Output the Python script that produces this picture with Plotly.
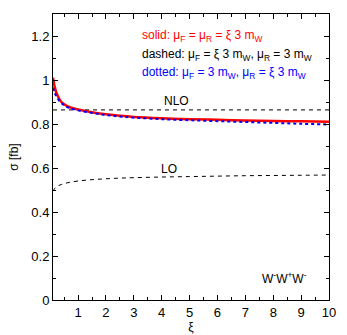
import plotly.graph_objects as go

xi = [0.1, 0.15, 0.2, 0.3, 0.4, 0.5, 0.7, 1.0, 1.5, 2.0, 2.5, 3.0, 4.0, 5.0, 6.0, 7.0, 8.0, 9.0, 10.0]
solid = [1.01, 0.975, 0.95, 0.92, 0.90, 0.89, 0.876, 0.866, 0.853, 0.844, 0.837, 0.832, 0.826, 0.822, 0.819, 0.816, 0.814, 0.812, 0.810]
dotted = [0.965, 0.945, 0.93, 0.91, 0.895, 0.885, 0.872, 0.862, 0.850, 0.841, 0.834, 0.829, 0.822, 0.817, 0.813, 0.809, 0.805, 0.801, 0.798]
nlo_x = [0.1, 10.0]
nlo = [0.864, 0.864]
lo = [0.495, 0.505, 0.512, 0.52, 0.525, 0.529, 0.535, 0.541, 0.547, 0.551, 0.554, 0.556, 0.559, 0.561, 0.563, 0.565, 0.566, 0.567, 0.568]

fig = go.Figure()
fig.add_trace(go.Scatter(x=nlo_x, y=nlo, mode="lines", line=dict(color="black", width=1, dash="4px,4px")))
fig.add_trace(go.Scatter(x=xi, y=lo, mode="lines", line=dict(color="black", width=1, dash="4px,4px"), line_shape="spline"))
fig.add_trace(go.Scatter(x=xi, y=solid, mode="lines", line=dict(color="red", width=2.5), line_shape="spline"))
fig.add_trace(go.Scatter(x=xi, y=dotted, mode="lines", line=dict(color="blue", width=2, dash="dot"), line_shape="spline"))

fam = "Liberation Sans"
font = dict(family=fam, size=12, color="black")
ann = [
    dict(x=3.29, y=1.2, text="solid: μ<sub>F</sub> = μ<sub>R</sub> = ξ 3 m<sub>W</sub>", color="red"),
    dict(x=3.29, y=1.113, text="dashed: μ<sub>F</sub> = ξ 3 m<sub>W</sub>, μ<sub>R</sub> = 3 m<sub>W</sub>", color="black"),
    dict(x=3.29, y=1.032, text="dotted: μ<sub>F</sub> = 3 m<sub>W</sub>, μ<sub>R</sub> = ξ 3 m<sub>W</sub>", color="blue"),
]
for a in ann:
    fig.add_annotation(x=a["x"], y=a["y"], text=a["text"], showarrow=False, xanchor="left", yanchor="middle",
                       width=190, align="left", borderpad=0, borderwidth=0,
                       font=dict(family=fam, size=12, color=a["color"]))
fig.add_annotation(x=4.54, y=0.905, text="NLO", showarrow=False, font=font)
fig.add_annotation(x=4.25, y=0.595, text="LO", showarrow=False, font=font)
fig.add_annotation(x=8.4, y=0.1, text="W<sup>-</sup>W<sup>+</sup>W<sup>-</sup>", showarrow=False, font=font)

axis_common = dict(showline=True, linecolor="black", linewidth=1, mirror="allticks", ticks="inside",
                   ticklen=5, tickcolor="black", showgrid=False, zeroline=False,
                   tickfont=dict(family=fam, size=13, color="black"), automargin=False)
fig.update_xaxes(range=[0.1, 10], tickvals=[1, 2, 3, 4, 5, 6, 7, 8, 9, 10],
                 minor=dict(tickvals=[0.5, 1.5, 2.5, 3.5, 4.5, 5.5, 6.5, 7.5, 8.5, 9.5], ticks="inside", ticklen=3, tickcolor="black"),
                 title=dict(text="ξ", font=font, standoff=0), **axis_common)
fig.update_yaxes(range=[0, 1.3], tickvals=[0, 0.2, 0.4, 0.6, 0.8, 1, 1.2],
                 ticktext=["0", "0.2", "0.4", "0.6", "0.8", "1", "1.2"],
                 minor=dict(tickvals=[0.1, 0.3, 0.5, 0.7, 0.9, 1.1], ticks="inside", ticklen=3, tickcolor="black"),
                 title=dict(text="σ [fb]", font=font, standoff=10), **axis_common)
fig.update_layout(width=347, height=335, margin=dict(l=53, r=18, t=14, b=35),
                  showlegend=False, plot_bgcolor="white", paper_bgcolor="white")
fig.write_html("out.html", config={"displayModeBar": False},
               post_script="document.body.style.margin='0';document.body.style.overflow='hidden';")
